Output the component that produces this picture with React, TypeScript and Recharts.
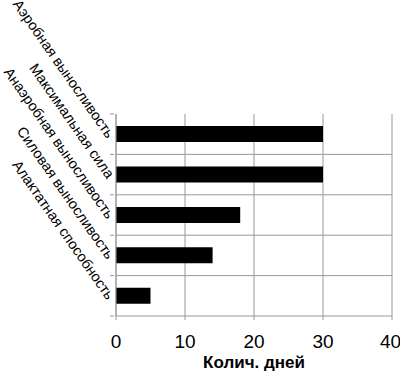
import React from "react";
import { BarChart, Bar, XAxis, YAxis, CartesianGrid } from "recharts";

const categories = [
  "Аэробная выносливость",
  "Максимальная сила",
  "Анаэробная выносливость",
  "Силовая выносливость",
  "Алактатная способность",
];
const days = [30, 30, 18, 14, 5];
const xTicks = [0, 10, 20, 30, 40];

const data = categories.map((name, i) => ({ name, days: days[i] }));

const W = 400;
const H = 371;
const margin = { top: 114, right: 8, left: 0, bottom: 0 };
const yAxisWidth = 116;
const xAxisHeight = 55;
const plotHeight = H - margin.top - margin.bottom - xAxisHeight;
const halfBand = plotHeight / categories.length / 2;
const gridColor = "#999";
const font = "'Liberation Sans', Arial, sans-serif";

const CategoryTick = (props: any) => {
  const { x, y, payload, index } = props;
  const ax = x + 4; // axis position
  const last = index === categories.length - 1;
  const tx = x + 1;
  const ty = y + 2;
  return (
    <g>
      <line x1={ax - 4} x2={ax} y1={y - halfBand} y2={y - halfBand} stroke={gridColor} />
      {last && (
        <line x1={ax - 4} x2={ax} y1={y + halfBand} y2={y + halfBand} stroke={gridColor} />
      )}
      <text
        x={tx}
        y={ty}
        dy="0.35em"
        textAnchor="end"
        fontSize={14.5}
        fontFamily={font}
        fill="#000"
        transform={`rotate(55, ${tx}, ${ty})`}
      >
        {payload.value}
      </text>
    </g>
  );
};

export default function App() {
  return (
    <div style={{ position: "absolute", left: 0, top: 0, background: "#fff" }}>
      <BarChart
        width={W}
        height={H}
        data={data}
        layout="vertical"
        margin={margin}
        barCategoryGap="30%"
      >
        <CartesianGrid
          stroke={gridColor}
          horizontalCoordinatesGenerator={({ offset }: any) =>
            categories.slice(1).map((_, i) => offset.top + (offset.height * (i + 1)) / categories.length)
          }
        />
        <XAxis
          type="number"
          domain={[0, 40]}
          ticks={xTicks}
          height={xAxisHeight}
          stroke={gridColor}
          tickSize={4}
          tick={{ fill: "#000", fontSize: 19, fontFamily: font }}
          tickMargin={15}
          label={{
            value: "Колич. дней",
            position: "insideBottom",
            offset: 3,
            fill: "#000",
            fontSize: 17,
            fontWeight: "bold",
            fontFamily: font,
          }}
        />
        <YAxis
          type="category"
          dataKey="name"
          width={yAxisWidth}
          stroke={gridColor}
          tickLine={false}
          tickSize={4}
          tick={<CategoryTick />}
        />
        <Bar dataKey="days" fill="#000" isAnimationActive={false} />
      </BarChart>
    </div>
  );
}
